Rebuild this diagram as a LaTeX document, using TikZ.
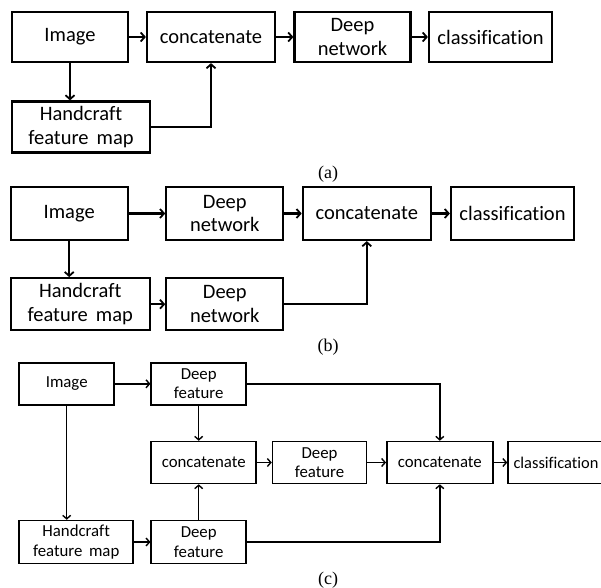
\documentclass[tikz,border=0pt]{standalone}
\usepackage{fontspec}
\setmainfont[Ligatures={NoCommon}]{Carlito}
\newfontfamily\capfont{Liberation Serif}
\usetikzlibrary{arrows.meta}
\begin{document}
\begin{tikzpicture}[x=1pt,y=-1pt,
  boxab/.style={draw=black, line width=2.2pt, inner sep=0pt, align=center,
    font=\fontsize{20.5}{23.5}\selectfont},
  boxc/.style={draw=black, line width=1.5pt, inner sep=0pt, align=center,
    font=\fontsize{16.8}{19.5}\selectfont},
  arab/.style={draw=black, line width=2.2pt, -{Straight Barb[length=4pt,width=9pt,line width=1.8pt]}},
  arc/.style={draw=black, line width=1.5pt, -{Straight Barb[length=3.5pt,width=8pt,line width=1.4pt]}},
  caption/.style={font=\capfont\fontsize{18}{20}\selectfont, inner sep=0pt}
]
\useasboundingbox (0,0) rectangle (601,587);

% ---------- (a)
\node[boxab, minimum width=116pt, minimum height=50pt] (imA) at (70,37) {Image};
\node[boxab, minimum width=128pt, minimum height=50pt] (caA) at (211,37) {concatenate};
\node[boxab, minimum width=116pt, minimum height=50pt] (dnA) at (352.5,37) {Deep\\network};
\node[boxab, minimum width=123pt, minimum height=50pt] (clA) at (490.5,37) {classification};
\node[boxab, minimum width=138pt, minimum height=51pt] (hcA) at (81,127) {Handcraft\\feature\, map};
\draw[arab] (imA) -- (caA);
\draw[arab] (caA) -- (dnA);
\draw[arab] (dnA) -- (clA);
\draw[arab] (imA.south) -- (imA.south |- hcA.north);
\draw[arab] (hcA.east) -| (caA.south);
\node[caption] (capA) at (328,174) {(a)};

% ---------- (b)
\node[boxab, minimum width=117pt, minimum height=53pt] (imB) at (69.2,213.5) {Image};
\node[boxab, minimum width=117pt, minimum height=53pt] (dnB1) at (224.8,213.5) {Deep\\network};
\node[boxab, minimum width=128pt, minimum height=53pt] (caB) at (366.8,213.5) {concatenate};
\node[boxab, minimum width=123pt, minimum height=53pt] (clB) at (512.5,213.5) {classification};
\node[boxab, minimum width=139pt, minimum height=52pt] (hcB) at (80.3,304.2) {Handcraft\\feature\, map};
\node[boxab, minimum width=117pt, minimum height=52pt] (dnB2) at (224.8,304.2) {Deep\\network};
\draw[arab] (imB) -- (dnB1);
\draw[arab] (dnB1) -- (caB);
\draw[arab] (caB) -- (clB);
\draw[arab] (imB.south) -- (imB.south |- hcB.north);
\draw[arab] (hcB) -- (dnB2);
\draw[arab] (dnB2.east) -| (caB.south);
\node[caption] (capB) at (328,347) {(b)};

% ---------- (c)
\node[boxc, minimum width=95pt, minimum height=42pt] (imC) at (66.7,383.8) {Image};
\node[boxc, minimum width=95pt, minimum height=42pt] (dfC1) at (198.7,383.8) {Deep\\feature};
\node[boxc, minimum width=105pt, minimum height=42pt] (caC1) at (203.7,462.5) {concatenate};
\node[boxc, minimum width=94pt, minimum height=42pt] (dfC2) at (319.5,462.5) {Deep\\feature};
\node[boxc, minimum width=106pt, minimum height=42pt] (caC2) at (439.8,462.5) {concatenate};
\node[boxc, minimum width=96pt, minimum height=42pt, font=\fontsize{16.4}{19.5}\selectfont] (clC) at (556,462.5) {classification};
\node[boxc, minimum width=114pt, minimum height=43pt] (hcC) at (76.2,542) {Handcraft\\feature\, map};
\node[boxc, minimum width=95pt, minimum height=43pt] (dfC3) at (198.7,542) {Deep\\feature};
\draw[arc] (imC) -- (dfC1);
\draw[arc] (imC.south) -- (imC.south |- hcC.north);
\draw[arc] (hcC) -- (dfC3);
\draw[arc] (dfC1.south) -- (dfC1.south |- caC1.north);
\draw[arc] (dfC3.north) -- (dfC3.north |- caC1.south);
\draw[arc] (caC1) -- (dfC2);
\draw[arc] (dfC2) -- (caC2);
\draw[arc] (caC2) -- (clC);
\draw[arc] (dfC1.east) -| (caC2.north);
\draw[arc] (dfC3.east) -| (caC2.south);
\node[caption] (capC) at (328,580) {(c)};
\end{tikzpicture}
\end{document}
